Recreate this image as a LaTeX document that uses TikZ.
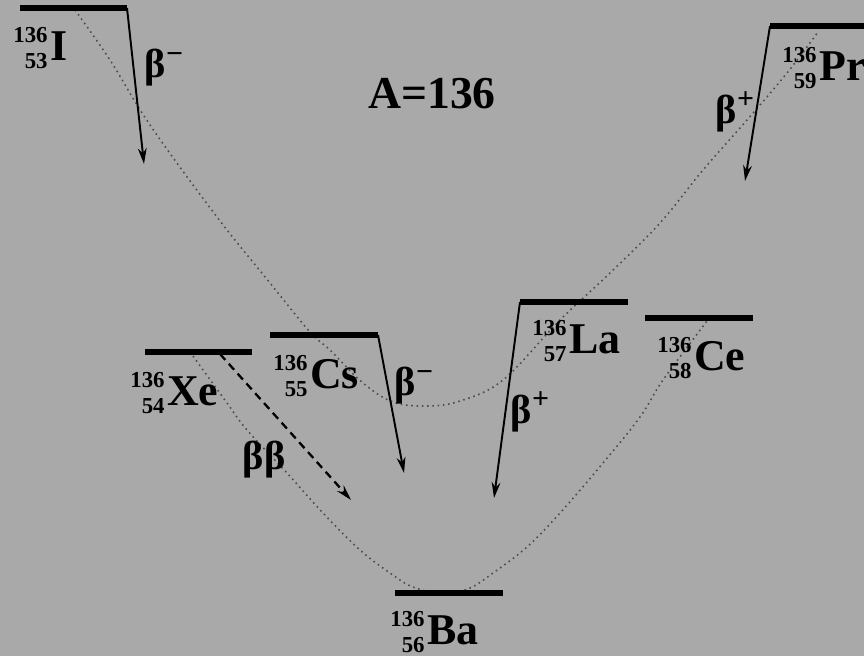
\documentclass[tikz,border=0pt]{standalone}
\usepackage{fontspec}
\setmainfont{Liberation Serif}
\usepackage{tikz}
\usetikzlibrary{arrows.meta, positioning}

\definecolor{bggray}{RGB}{169,169,169}

% nuclide label: mass number over charge number, then the symbol
\newcommand{\nuc}[3]{\raisebox{-4.8pt}{\fontsize{13}{14.5}\selectfont\begin{tabular}[b]{@{}r@{}}#1\\#2\end{tabular}}\kern1.5pt#3}
\newcommand{\bdecay}[1]{β\raisebox{0.36em}{\fontsize{17}{17}\selectfont #1}}

\begin{document}
\begin{tikzpicture}[x=0.02cm, y=-0.02cm, >={Stealth[length=9pt,width=5pt]},
	levelbar/.style={line width=3.4pt},
	betaarrow/.style={->, line width=1.1pt},
	parab/.style={black!70, line width=0.9pt, dash pattern=on 0.9pt off 2.1pt},
	nuclide/.style={inner sep=0pt, anchor=base west, font=\fontsize{25}{25}\selectfont\bfseries},
	betalabel/.style={inner sep=0pt, font=\fontsize{23}{23}\selectfont\bfseries}]
				\useasboundingbox (0,0) rectangle (864,656);
				\fill[bggray] (0,0) rectangle (864,656);
				
				% mass parabolas
				\draw[parab] plot[smooth, tension=0.6] coordinates {(75,10) (110,60) (150,125) (217,217) (270,283) (310,332) (330,350) (363,383) (393,402) (427,406) (460,401) (503,380) (560,320) (610,273) (660,223) (703,170) (747,120) (787,73) (818,32)};
				\draw[parab] plot[smooth, tension=0.6] coordinates {(193,356) (227,403) (247,430) (287,473) (323,513) (360,550) (390,573) (413,587) (444,594) (470,588) (493,573) (527,547) (560,513) (603,463) (640,417) (663,380) (707,321)};
				
				% levels
				\coordinate (I-r) at (127,8);
				\coordinate (Pr-l) at (770,26);
				\coordinate (Cs-r) at (378,335);
				\coordinate (La-l) at (520,302);
				\coordinate (Xe-m) at (220,354);
				\draw[levelbar] (20,8) -- (I-r);
				\draw[levelbar] (Pr-l) -- (870,26);
				\draw[levelbar] (145,352) -- (252,352);
				\draw[levelbar] (270,335) -- (Cs-r);
				\draw[levelbar] (La-l) -- (628,302);
				\draw[levelbar] (645,318) -- (753,318);
				\draw[levelbar] (395,593) -- (503,593);
				
				\node[nuclide] (I) at (13,60) {\nuc{136}{53}{I}};
				\node[nuclide] (Pr) at (782,80) {\nuc{136}{59}{Pr}};
				\node[nuclide] (Xe) at (130,405) {\nuc{136}{54}{Xe}};
				\node[nuclide] (Cs) at (273,388) {\nuc{136}{55}{Cs}};
				\node[nuclide] (La) at (532,353) {\nuc{136}{57}{La}};
				\node[nuclide] (Ce) at (657,370) {\nuc{136}{58}{Ce}};
				\node[nuclide] (Ba) at (390,644) {\nuc{136}{56}{Ba}};
				
				\node[inner sep=0pt, anchor=base, font=\fontsize{26}{26}\selectfont\bfseries] (mass) at (432,108) {A=136};
				
				% decays
				\coordinate (I-tip) at (144,164);
				\coordinate (Pr-tip) at (745,181);
				\coordinate (Cs-tip) at (404,473);
				\coordinate (La-tip) at (494,498);
				\coordinate (Xe-tip) at (351,500);
				\draw[betaarrow] (I-r) -- (I-tip);
				\draw[betaarrow] (Pr-l) -- (Pr-tip);
				\draw[betaarrow] (Cs-r) -- (Cs-tip);
				\draw[betaarrow] (La-l) -- (La-tip);
				\draw[betaarrow, line width=1.3pt, dash pattern=on 4.5pt off 3pt] (Xe-m) -- (Xe-tip);
				
				\node[betalabel] (bI) at (164,68) {\bdecay{−}};
				\node[betalabel] (bPr) at (735,112) {\bdecay{+}};
				\node[betalabel] (bCs) at (414,386) {\bdecay{−}};
				\node[betalabel] (bLa) at (530,412) {\bdecay{+}};
				\node[betalabel] (bXe) at (264,460) {ββ};
			\end{tikzpicture}
\end{document}
